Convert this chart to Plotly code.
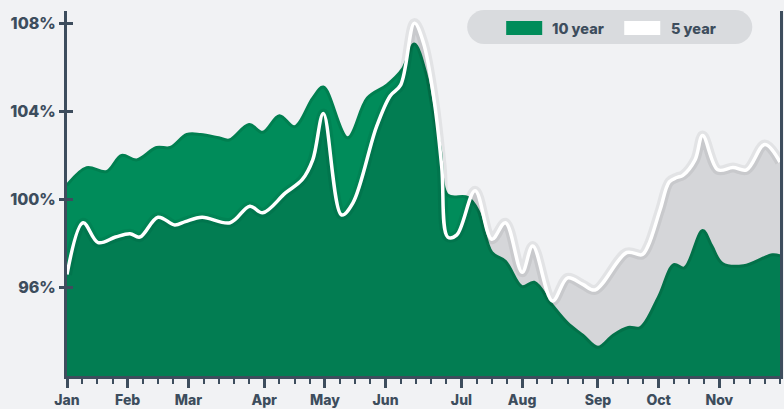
import plotly.graph_objects as go

# ---- data (x in weeks from start of year, y in % ) ----
weeks_10 = [0, 1.3, 2.6, 3.6, 4.6, 5.9, 6.8, 7.9, 8.8, 10.0, 10.7, 12.0, 12.9, 14.0, 15.0,
            16.2, 16.9, 18.5, 19.8, 21.1, 22.1, 22.9, 23.7, 24.0, 24.6, 25.1, 26.4, 27.1,
            28.0, 28.9, 30.0, 30.8, 32.0, 33.0, 34.0, 35.0, 36.0, 37.0, 37.8, 39.0, 40.0,
            40.7, 41.9, 42.5, 43.2, 44.6, 46.5, 47.0]
vals_10 = [100.65, 101.45, 101.27, 102.0, 101.8, 102.36, 102.36, 102.95, 102.95, 102.8, 102.7,
           103.4, 103.05, 103.8, 103.3, 104.6, 105.1, 102.8, 104.6, 105.2, 105.9, 107.05, 105.6,
           104.5, 102.3, 100.2, 100.1, 99.5, 97.6, 97.2, 96.05, 96.25, 95.2, 94.4, 93.85, 93.3,
           93.85, 94.2, 94.2, 95.6, 97.05, 96.9, 98.6, 97.9, 97.1, 97.0, 97.5, 97.45]

weeks_5 = [0, 1.06, 2.05, 3.2, 4.15, 4.8, 6.0, 7.1, 7.8, 8.9, 10.75, 12.05, 12.9, 14.4, 15.5,
           16.2, 16.9, 18.1, 18.85, 20.4, 21.3, 22.0, 22.9, 23.5, 24.2, 24.7, 25.1, 25.7, 26.9,
           28.0, 28.9, 30.0, 30.7, 32.0, 33.0, 34.0, 34.8, 36.9, 37.9, 38.3, 39.1, 39.7, 40.2,
           40.6, 41.4, 41.9, 42.9, 43.9, 44.8, 46.0, 47.0]
vals_5 = [96.6, 98.95, 98.05, 98.3, 98.45, 98.3, 99.2, 98.85, 99.0, 99.2, 98.95, 99.7, 99.4,
          100.3, 100.9, 101.8, 103.9, 99.3, 99.85, 103.3, 104.7, 105.2, 108.0, 107.1, 104.5,
          101.5, 98.3, 98.4, 100.4, 98.2, 98.95, 96.7, 97.9, 95.4, 96.45, 96.15, 95.9, 97.6,
          97.5, 97.9, 99.55, 100.8, 101.0, 101.1, 101.8, 102.9, 101.35, 101.45, 101.35, 102.5,
          101.7]

month_weeks = [0, 4, 8, 13, 17, 21, 26, 30, 35, 39, 43]
month_labels = ["Jan", "Feb", "Mar", "Apr", "May", "Jun", "Jul", "Aug", "Sep", "Oct", "Nov"]
y_ticks = [96, 100, 104, 108]
y_labels = ["96%", "100%", "104%", "108%"]
series_names = ["10 year", "5 year"]

# ---- style ----
BG = "#f1f2f4"
INK = "#3d4d5d"
GREEN = "#008c5a"
GREEN_EDGE = "#007f50"
FONT = "Inter"

W, H = 784, 409
L, R, T, B = 67, 779.7, 11, 375.7


def px_x(p):
    return (p - L) / (R - L)


def px_y(p):
    return (B - p) / (B - T)


fig = go.Figure()
fig.add_trace(go.Scatter(x=weeks_10, y=vals_10, fill="tozeroy", fillcolor=GREEN,
                         mode="lines", line=dict(color=GREEN_EDGE, width=3, shape="spline", smoothing=1.0),
                         name=series_names[0], hoverinfo="skip"))
fig.add_trace(go.Scatter(x=weeks_5, y=vals_5, fill="tozeroy", fillcolor="rgba(20,20,25,0.12)",
                         mode="lines", line=dict(color="rgba(0,0,0,0)", width=0, shape="spline", smoothing=1.0),
                         name=series_names[1], hoverinfo="skip"))
fig.add_trace(go.Scatter(x=weeks_5, y=vals_5, mode="lines",
                         line=dict(color="rgba(0,0,0,0.06)", width=10, shape="spline", smoothing=1.0),
                         hoverinfo="skip", showlegend=False))
fig.add_trace(go.Scatter(x=weeks_5, y=vals_5, mode="lines",
                         line=dict(color="white", width=3.5, shape="spline", smoothing=1.0),
                         hoverinfo="skip", showlegend=False))
# dummy trace for the inner tick axis
fig.add_trace(go.Scatter(x=[0], y=[100], mode="none", yaxis="y2", hoverinfo="skip", showlegend=False))

tickfont = dict(family=FONT, size=16, color=INK, weight=800)

fig.update_layout(
    width=W, height=H,
    margin=dict(l=L, r=W - R, t=T, b=H - B, autoexpand=False),
    paper_bgcolor=BG, plot_bgcolor=BG,
    showlegend=False,
    xaxis=dict(range=[0, 47], tickmode="array", tickvals=month_weeks, ticktext=month_labels,
               ticks="outside", ticklen=9, tickwidth=2.5, tickcolor=INK, automargin=False,
               showline=True, linecolor=INK, linewidth=3, showgrid=False, zeroline=False,
               tickfont=dict(family=FONT, size=14, color=INK, weight=800),
               minor=dict(tickmode="linear", tick0=0, dtick=1, ticks="outside", ticklen=5,
                          tickwidth=2, tickcolor=INK, showgrid=False)),
    yaxis=dict(range=[92, 108.55], tickmode="array", tickvals=y_ticks, ticktext=y_labels,
               ticks="outside", ticklen=5, tickwidth=2.5, tickcolor=INK, automargin=False,
               showline=True, mirror=True, linecolor=INK, linewidth=3,
               showgrid=False, zeroline=False, tickfont=tickfont),
    yaxis2=dict(range=[92, 108.55], overlaying="y", side="left", tickmode="array",
                tickvals=y_ticks, ticks="inside", ticklen=6, tickwidth=2.5, tickcolor=INK,
                automargin=False,
                showticklabels=False, showline=False, showgrid=False, zeroline=False),
)

# ---- legend (pill) ----
x0, x1, yt, yb = 467, 752, 10, 44
r = (yb - yt) / 2
k = 0.5523
ym = (yt + yb) / 2
pts = [
    ("M", [(x0 + r, yt)]),
    ("L", [(x1 - r, yt)]),
    ("C", [(x1 - r + k * r, yt), (x1, ym - k * r), (x1, ym)]),
    ("C", [(x1, ym + k * r), (x1 - r + k * r, yb), (x1 - r, yb)]),
    ("L", [(x0 + r, yb)]),
    ("C", [(x0 + r - k * r, yb), (x0, ym + k * r), (x0, ym)]),
    ("C", [(x0, ym - k * r), (x0 + r - k * r, yt), (x0 + r, yt)]),
]
path = ""
for cmd, pl in pts:
    path += cmd + " " + " ".join(f"{px_x(a):.5f},{px_y(b):.5f}" for a, b in pl) + " "
path += "Z"

fig.add_shape(type="path", path=path, xref="paper", yref="paper",
              fillcolor="#d9dbde", line=dict(width=0), layer="above")
fig.add_shape(type="rect", xref="paper", yref="paper", x0=px_x(506), x1=px_x(542),
              y0=px_y(35), y1=px_y(21), fillcolor=GREEN, line=dict(width=0), layer="above")
fig.add_shape(type="rect", xref="paper", yref="paper", x0=px_x(624), x1=px_x(660),
              y0=px_y(35), y1=px_y(21), fillcolor="white", line=dict(width=0), layer="above")
for name, xp in zip(series_names, [550, 669]):
    fig.add_annotation(text=name, xref="paper", yref="paper", x=px_x(xp), y=px_y(28),
                       xanchor="left", yanchor="middle", showarrow=False,
                       font=dict(family=FONT, size=14.5, color=INK, weight=800))

fig.write_html("out.html", config={"displayModeBar": False},
               post_script="document.body.style.margin='0';document.body.style.background='%s';" % BG)
